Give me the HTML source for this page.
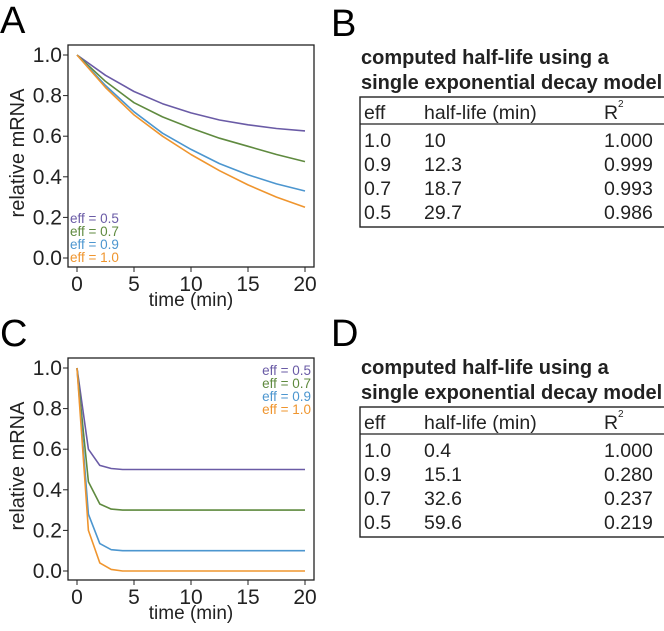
<!DOCTYPE html>
<html><head><meta charset="utf-8"><style>
body{margin:0;background:#fff;font-family:"Liberation Sans",Arial,sans-serif;}
svg text{font-family:"Liberation Sans",Arial,sans-serif;}
</style></head><body>
<svg id="fig" width="664" height="626" viewBox="0 0 664 626">
<g id="panels"></g>
</svg>
<script>
const colors=["#6a5ba6","#5f8a3f","#4c96cf","#ef952e"];
const seriesNames=["eff = 0.5","eff = 0.7","eff = 0.9","eff = 1.0"];
const xTicks=[0,5,10,15,20];
const yTicks=[0,0.2,0.4,0.6,0.8,1.0];
const yTickLabels=["0.0","0.2","0.4","0.6","0.8","1.0"];
const timesA=[0,2.5,5,7.5,10,12.5,15,17.5,20];
const effHalfA=[1,0.90,0.82,0.76,0.715,0.68,0.656,0.638,0.626];
const eff07A=[1,0.87,0.765,0.695,0.64,0.59,0.55,0.51,0.475];
const eff09A=[1,0.85,0.72,0.615,0.535,0.465,0.41,0.365,0.33];
const eff10A=[1,0.84,0.705,0.60,0.51,0.43,0.36,0.30,0.25];
const timesC=[0,1,2,3,4,5,20];
const effHalfC=[1,0.6,0.52,0.505,0.5,0.5,0.5];
const eff07C=[1,0.44,0.33,0.305,0.3,0.3,0.3];
const eff09C=[1,0.28,0.135,0.105,0.1,0.1,0.1];
const eff10C=[1,0.2,0.04,0.008,0,0,0];
const tableHeaders=["eff","half-life (min)","R"];
const effCol=["1.0","0.9","0.7","0.5"];
const halfB=["10","12.3","18.7","29.7"];
const r2B=["1.000","0.999","0.993","0.986"];
const halfD=["0.4","15.1","32.6","59.6"];
const r2D=["1.000","0.280","0.237","0.219"];

const NS="http://www.w3.org/2000/svg";
const root=document.getElementById('panels');
function mk(tag,attrs,parent,txt){const e=document.createElementNS(NS,tag);for(const k in attrs)e.setAttribute(k,attrs[k]);if(txt!==undefined)e.textContent=txt;(parent||root).appendChild(e);return e;}

function plot(oy,times,series,legendRight,letter){
  const g=mk('g',{});
  
  
  const X=t=>77+(305-77)*t/20;
  const Y=v=>(oy+203)-203*v;
  const lab=mk('text',{x:0,y:oy-22,'font-size':38},g,letter);
  
  
  const box=mk('rect',{x:68,y:oy-10,width:246,height:222,fill:'none',stroke:'#222','stroke-width':1.3},g);
  
  
  xTicks.forEach(t=>{
    mk('line',{x1:X(t),x2:X(t),y1:oy+212,y2:oy+217,stroke:'#222'},g);
    const tt=mk('text',{x:X(t),y:oy+236,'font-size':21,'text-anchor':'middle',fill:'#222'},g,String(t));
    
    
  });
  yTicks.forEach((v,i)=>{
    mk('line',{x1:63,x2:68,y1:Y(v),y2:Y(v),stroke:'#222'},g);
    const tt=mk('text',{x:62,y:Y(v)+7,'font-size':21,'text-anchor':'end',fill:'#222'},g,yTickLabels[i]);
    
    
  });
  const xt=mk('text',{x:191,y:oy+251,'font-size':19,'text-anchor':'middle',fill:'#222'},g,'time (min)');
  
  
  const yt=mk('text',{x:0,y:0,'font-size':20,'text-anchor':'middle',fill:'#222',transform:`translate(24,${oy+98}) rotate(-90)`},g,'relative mRNA');
  
  
  series.forEach((s,i)=>{
    const d=s.map((v,j)=>(j?'L':'M')+X(times[j]).toFixed(1)+','+Y(v).toFixed(1)).join(' ');
    const p=mk('path',{d:d,fill:'none',stroke:colors[i],'stroke-width':1.6,'stroke-linejoin':'round'},g);
    
    
  });
  seriesNames.forEach((n,i)=>{
    const at=legendRight?{x:311,y:oy+7+i*13,'text-anchor':'end'}:{x:70,y:oy+168+i*13,'text-anchor':'start'};
    const t=mk('text',Object.assign({'font-size':13.5,fill:colors[i]},at),g,n);
    
    
  });
}
plot(55,timesA,[effHalfA,eff07A,eff09A,eff10A],false,'A');
plot(368,timesC,[effHalfC,eff07C,eff09C,eff10C],true,'C');

function table(oy,letter,half,r2){
  const g=mk('g',{});
  
  
  const lab=mk('text',{x:331,y:oy+36,'font-size':38},g,letter);
  
  
  const t1=mk('text',{x:361,y:oy+64,'font-size':20,'font-weight':'bold',fill:'#222'},g,'computed half-life using a');
  
  
  mk('text',{x:361,y:oy+89,'font-size':20,'font-weight':'bold',fill:'#222'},g,'single exponential decay model');
  mk('rect',{x:360,y:oy+97,width:310,height:130,fill:'none',stroke:'#222','stroke-width':1.4},g);
  mk('line',{x1:360,x2:664,y1:oy+124,y2:oy+124,stroke:'#222','stroke-width':1.3},g);
  const cx=[364,424,604];
  tableHeaders.forEach((h,i)=>{const t=mk('text',{x:cx[i],y:oy+119,'font-size':19.5,fill:'#222'},g,h);
    });
  mk('text',{x:618,y:oy+107,'font-size':10,fill:'#222'},g,'2');
  effCol.forEach((e,r)=>{
    const y=oy+147+r*24;
    [e,half[r],r2[r]].forEach((v,i)=>{const t=mk('text',{x:cx[i],y:y,'font-size':19.5,fill:'#222'},g,v);
      });
  });
}
table(0,'B',halfB,r2B);
table(310,'D',halfD,r2D);
</script>
</body></html>
